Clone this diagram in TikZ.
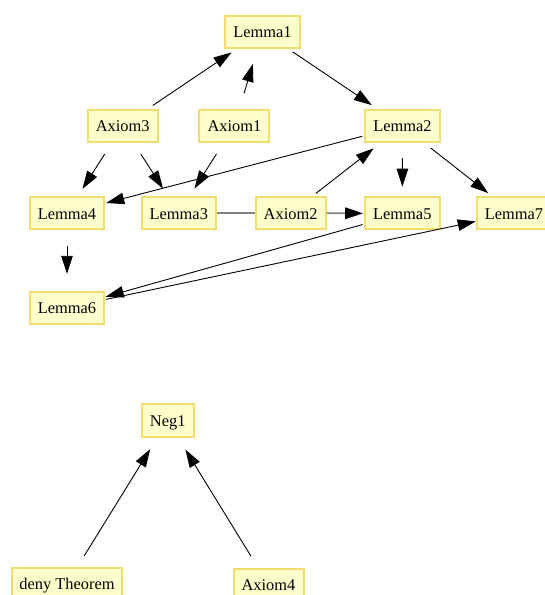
\documentclass[tikz,border=0pt]{standalone}
\usepackage{fontspec}
\setmainfont{Liberation Serif}
\usetikzlibrary{arrows.meta}
\definecolor{boxfill}{HTML}{FFFFCC}
\definecolor{boxline}{HTML}{F3DC6E}
\tikzset{
  box/.style={draw=boxline, line width=2pt, fill=boxfill, inner sep=0pt,
    minimum height=32pt, text height=12pt, text depth=0pt,
    font=\fontsize{16.4pt}{18pt}\selectfont},
  lbox/.style={box, minimum width=74.5pt},
  abox/.style={box, minimum width=70pt},
  edge/.style={draw=black, line width=0.9pt, -{Triangle[length=18pt,width=11.5pt]}},
  grayedge/.style={draw=gray, line width=1.8pt},
}
\begin{document}
\begin{tikzpicture}[x=1pt, y=-1pt]
\useasboundingbox (0,0) rectangle (545,595);
\node[lbox] (Lemma1) at (262.5,31.5) {Lemma1};
\node[abox] (Axiom3) at (122.7,125.8) {Axiom3};
\node[abox] (Axiom1) at (234.4,125.8) {Axiom1};
\node[lbox] (Lemma2) at (402.5,125.8) {Lemma2};
\node[lbox] (Lemma4) at (67,213.2) {Lemma4};
\node[lbox] (Lemma3) at (178.8,213.2) {Lemma3};
\node[abox] (Axiom2) at (290.6,213.2) {Axiom2};
\node[lbox] (Lemma5) at (402.3,213.4) {Lemma5};
\node[lbox] (Lemma7) at (514,213.4) {Lemma7};
\node[lbox] (Lemma6) at (67,307.6) {Lemma6};
\node[box, minimum width=52pt, minimum height=33pt] (Neg1) at (167.7,420.8) {Neg1};
\node[box, minimum width=110.6pt] (deny) at (67,583.7) {deny Theorem};
\node[abox] (Axiom4) at (268.5,584.7) {Axiom4};

\draw[edge, shorten <=6pt, shorten >=7pt] (Axiom3) -- (Lemma1);
\draw[edge, shorten <=16pt, shorten >=16pt] (Axiom1) -- (Lemma1);
\draw[edge, shorten <=6pt, shorten >=6.6pt] (Lemma1) -- (Lemma2);
\draw[edge, shorten <=13.4pt, shorten >=8.6pt] (Axiom3) -- (Lemma4);
\draw[edge, shorten <=13.7pt, shorten >=9pt] (Axiom3) -- (Lemma3);
\draw[edge, shorten <=13.2pt, shorten >=9pt] (Axiom1) -- (Lemma3);
\draw[edge, shorten <=2pt, shorten >=1pt] (Lemma2) -- (Lemma4);
\draw[edge, shorten <=4.4pt, shorten >=9pt] (Axiom2) -- (Lemma2);
\draw[edge, shorten <=15.4pt, shorten >=9.7pt] (Lemma2) -- (Lemma5);
\draw[edge, shorten <=8.3pt, shorten >=5.3pt] (Lemma2) -- (Lemma7);
\draw[grayedge] (Lemma3) -- (Axiom2);
\draw[grayedge, -{Triangle[length=18pt,width=11.5pt,black]}, shorten >=1pt] (Axiom2) -- (Lemma5);
\draw[edge, shorten <=16pt, shorten >=16.8pt] (Lemma4) -- (Lemma6);
\draw[edge, shorten <=1.5pt, shorten >=0.5pt] (Lemma5) -- (Lemma6);
\draw[edge, shorten <=1pt, shorten >=0pt] (Lemma6) -- (Lemma7);
\draw[edge, shorten <=12.8pt, shorten >=12.6pt] (deny) -- (Neg1);
\draw[edge, shorten <=13.5pt, shorten >=13.2pt] (Axiom4) -- (Neg1);
\end{tikzpicture}
\end{document}
